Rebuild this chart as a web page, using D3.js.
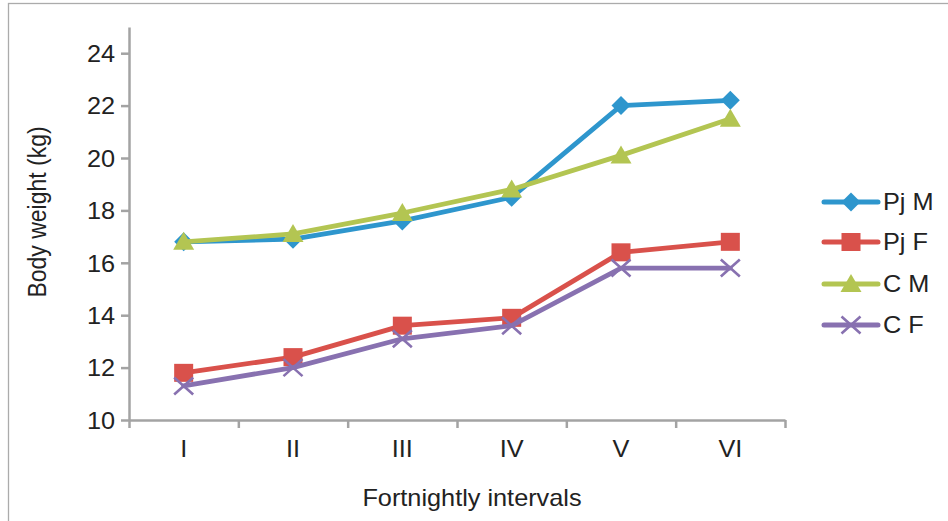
<!DOCTYPE html>
<html>
<head>
<meta charset="utf-8">
<script src="https://cdn.jsdelivr.net/npm/d3@7"></script>
<style>
  html, body { margin: 0; padding: 0; background: #fff; }
  svg { display: block; font-family: "Liberation Sans", Arial, sans-serif; }
</style>
</head>
<body>
<svg id="chart" width="948" height="521"></svg>
<script>
// Fortnightly body weight by group
const intervals = ["I", "II", "III", "IV", "V", "VI"];
const pjM = [16.8, 16.9, 17.6, 18.5, 22.0, 22.2];
const pjF = [11.8, 12.4, 13.6, 13.9, 16.4, 16.8];
const cM  = [16.8, 17.1, 17.9, 18.8, 20.1, 21.5];
const cF  = [11.3, 12.0, 13.1, 13.6, 15.8, 15.8];
const yTickValues = [10, 12, 14, 16, 18, 20, 22, 24];
const seriesNames = ["Pj M", "Pj F", "C M", "C F"];

const series = [
  { name: seriesNames[0], values: pjM, color: "#2E96CD", marker: "diamond" },
  { name: seriesNames[1], values: pjF, color: "#D9514B", marker: "square" },
  { name: seriesNames[2], values: cM,  color: "#B3C552", marker: "triangle" },
  { name: seriesNames[3], values: cF,  color: "#8871B0", marker: "cross" }
];

const svg = d3.select("#chart");
const axisColor = "#A3A3A3";
const textColor = "#222";
const SX = 1.1; // text is set slightly wide

// chart frame
svg.append("rect")
  .attr("x", 8.5).attr("y", 3.5)
  .attr("width", 960).attr("height", 540)
  .attr("fill", "none").attr("stroke", "#ABABAB").attr("stroke-width", 1.3);

const plotLeft = 129, plotRight = 785, plotTop = 27, plotBottom = 420;

const x = d3.scaleBand().domain(intervals).range([plotLeft, plotRight]).padding(0);
const xEdge = d3.scaleLinear().domain([0, intervals.length]).range([plotLeft, plotRight]);
const y = d3.scaleLinear().domain([10, 25]).range([plotBottom, plotTop]);

// y axis
const yAxis = svg.append("g")
  .attr("transform", `translate(${plotLeft},0)`)
  .call(d3.axisLeft(y).tickValues(yTickValues).tickSize(8).tickSizeOuter(0).tickPadding(6));
yAxis.select(".domain").attr("stroke", axisColor).attr("stroke-width", 2.5);
yAxis.selectAll(".tick line").attr("stroke", axisColor).attr("stroke-width", 2.5);
yAxis.selectAll(".tick text")
  .attr("fill", textColor).attr("font-size", 23)
  .attr("dy", "0.36em").attr("x", 0)
  .attr("transform", `translate(-14,0) scale(${SX},1)`);

// x axis: boundary ticks
const xAxisTicks = svg.append("g")
  .attr("transform", `translate(0,${plotBottom})`)
  .call(d3.axisBottom(xEdge).tickValues(d3.range(intervals.length + 1)).tickFormat("").tickSize(8).tickSizeOuter(0));
xAxisTicks.select(".domain").attr("stroke", axisColor).attr("stroke-width", 2.5);
xAxisTicks.selectAll(".tick line").attr("stroke", axisColor).attr("stroke-width", 2.5);

// x axis: category labels
const xAxisLabels = svg.append("g")
  .attr("transform", `translate(0,${plotBottom})`)
  .call(d3.axisBottom(x).tickSize(0).tickPadding(0));
xAxisLabels.select(".domain").remove();
xAxisLabels.selectAll(".tick text")
  .attr("fill", textColor).attr("font-size", 23)
  .attr("y", 0).attr("dy", 0)
  .attr("transform", `translate(0,37) scale(${SX},1)`);

// axis titles
svg.append("text")
  .attr("transform", `translate(${(plotLeft + plotRight) / 2 + 15},506) scale(${SX},1)`)
  .attr("text-anchor", "middle").attr("font-size", 23).attr("fill", textColor)
  .text("Fortnightly intervals");

svg.append("text")
  .attr("transform", `translate(46,212) scale(${SX},1) rotate(-90)`)
  .attr("text-anchor", "middle").attr("font-size", 23).attr("fill", textColor)
  .text("Body weight (kg)");

// marker drawing
function drawMarker(g, type, color) {
  if (type === "diamond") {
    g.append("path").attr("d", "M0,-9.5L9.5,0L0,9.5L-9.5,0Z").attr("fill", color);
  } else if (type === "square") {
    g.append("rect").attr("x", -9.5).attr("y", -9).attr("width", 19).attr("height", 18)
      .attr("fill", color);
  } else if (type === "triangle") {
    g.append("path").attr("d", "M0,-10L10.5,8L-10.5,8Z").attr("fill", color);
  } else if (type === "cross") {
    g.append("path").attr("d", "M-9.5,-8.5L9.5,8.5M-9.5,8.5L9.5,-8.5")
      .attr("stroke", color).attr("stroke-width", 2.6).attr("fill", "none");
  }
}

const line = d3.line()
  .x((d, i) => x(intervals[i]) + x.bandwidth() / 2)
  .y(d => y(d));

series.forEach(s => {
  const g = svg.append("g");
  g.append("path")
    .datum(s.values)
    .attr("d", line)
    .attr("fill", "none")
    .attr("stroke", s.color)
    .attr("stroke-width", 4.8)
    .attr("stroke-linejoin", "round")
    .attr("stroke-linecap", "round");
  s.values.forEach((v, i) => {
    const m = g.append("g")
      .attr("transform", `translate(${x(intervals[i]) + x.bandwidth() / 2},${y(v)})`);
    drawMarker(m, s.marker, s.color);
  });
});

// legend
const legendY = [202, 242, 284, 325];
series.forEach((s, i) => {
  const g = svg.append("g").attr("transform", `translate(0,${legendY[i]})`);
  g.append("line").attr("x1", 824).attr("x2", 878).attr("y1", 0).attr("y2", 0)
    .attr("stroke", s.color).attr("stroke-width", 5).attr("stroke-linecap", "round");
  const m = g.append("g").attr("transform", "translate(851,0)");
  drawMarker(m, s.marker, s.color);
  g.append("text")
    .attr("transform", `translate(883,0) scale(${SX},1)`)
    .attr("dy", "0.36em").attr("font-size", 23).attr("fill", textColor)
    .text(s.name);
});
</script>
</body>
</html>
